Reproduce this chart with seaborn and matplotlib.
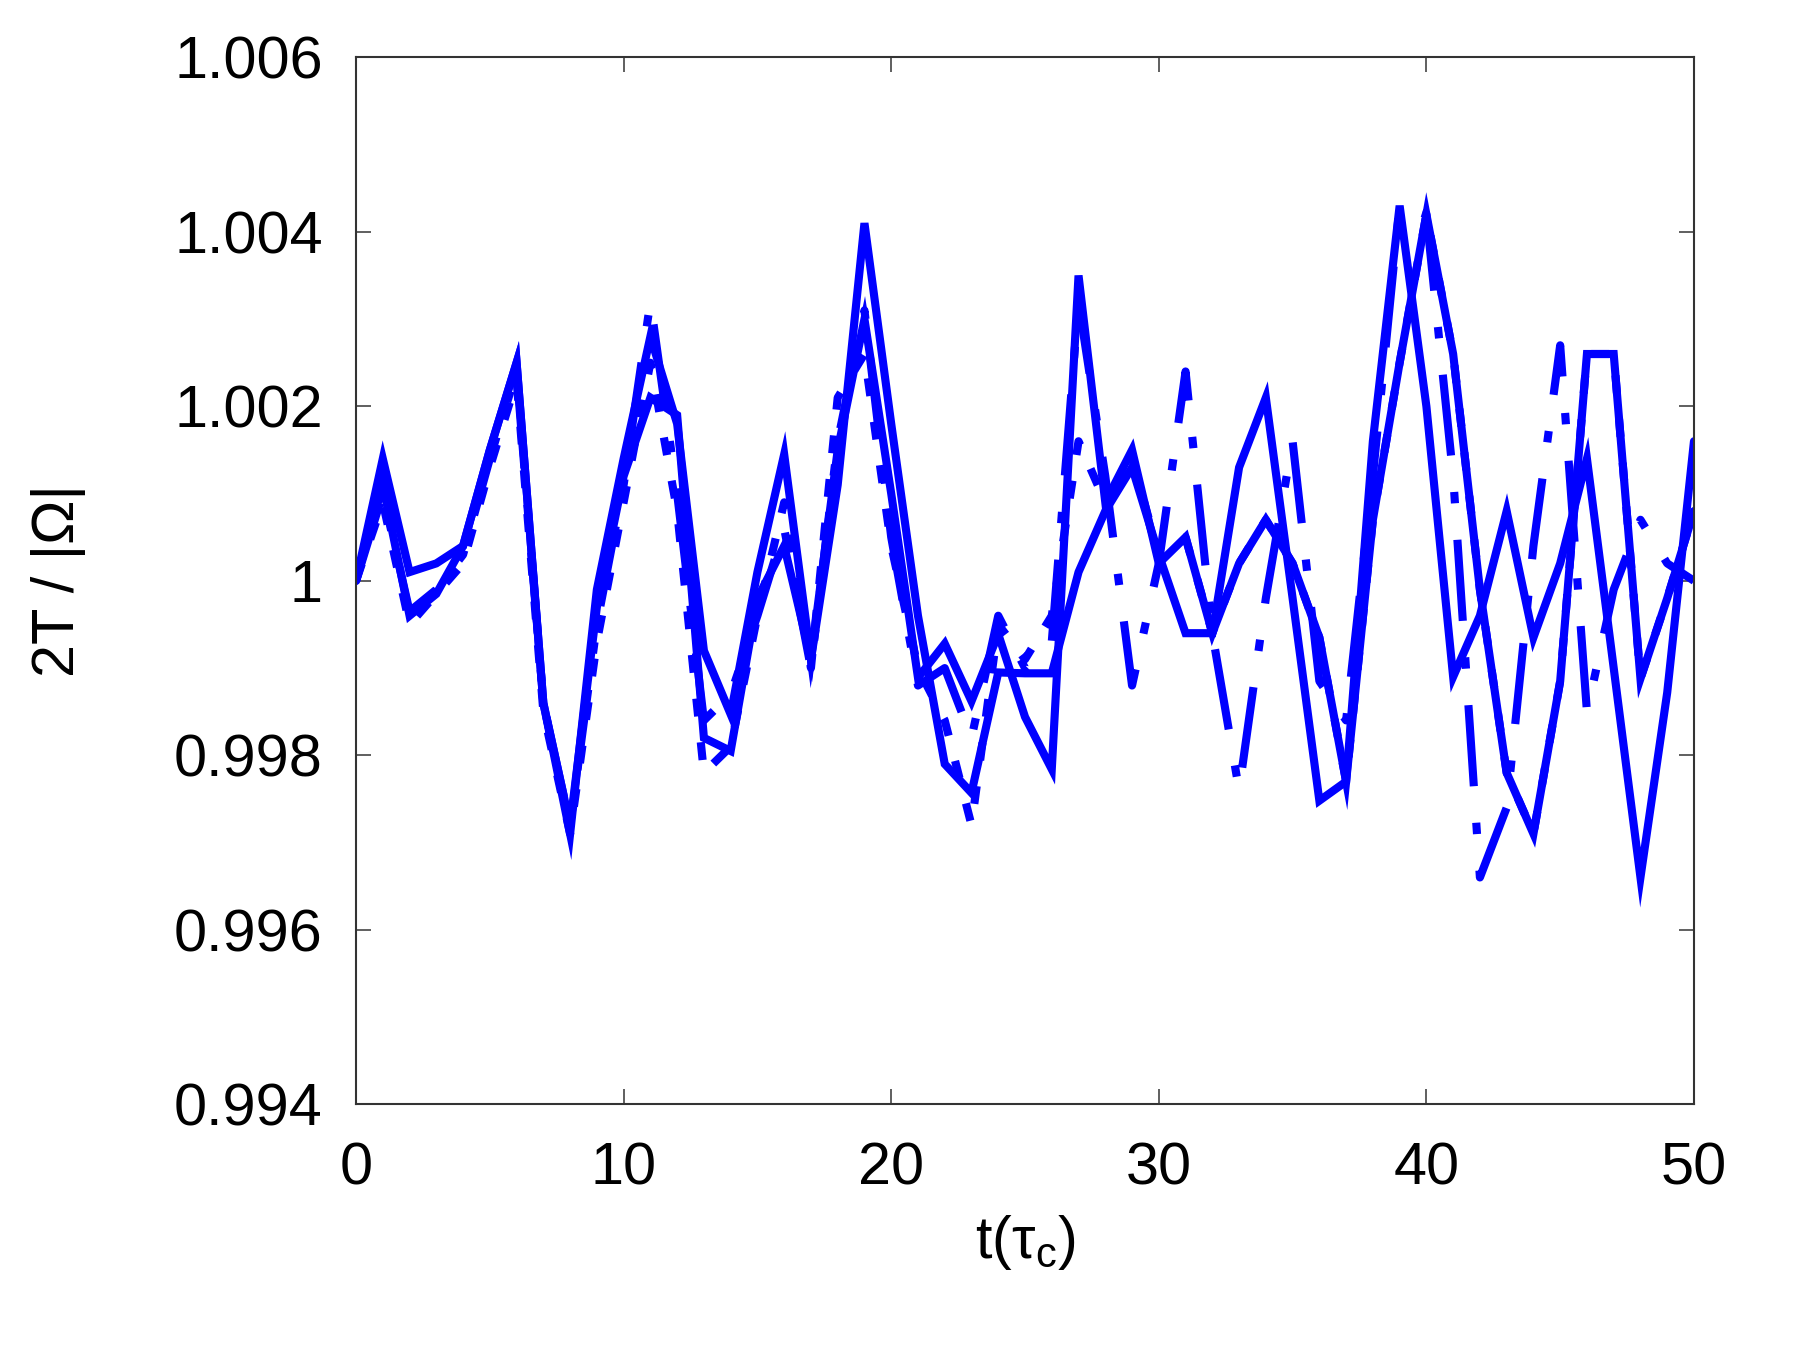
import numpy as np
import pandas as pd
import matplotlib
matplotlib.use("Agg")
import matplotlib.pyplot as plt
import seaborn as sns

t = list(range(51))

solid_1 = [1.0000, 1.0014, 1.0001, 1.0002, 1.0004, 1.0015, 1.0025, 0.9986, 0.9971, 0.9999,
           1.0014, 1.0028, 1.0018, 0.9992, 0.99847, 1.0001, 1.00145, 0.9991, 1.0011, 1.0041,
           1.0018, 0.9996, 0.9979, 0.99757, 0.99895, 0.99894, 0.99894, 1.0001, 1.0008, 1.0013,
           1.0003, 0.9994, 0.9994, 1.0013, 1.0021, 0.9998, 0.99748, 0.9977, 1.0016, 1.0043,
           1.0020, 0.9989, 0.9996, 1.0008, 0.99935, 1.0002, 1.0014, 0.9990, 0.9966, 0.99872,
           1.0016]

solid_2 = [1.0000, 1.0011, 0.9996, 0.99985, 1.0004, 1.0015, 1.0025, 0.9986, 0.9972, 0.9997,
           1.0012, 1.0021, 1.0019, 0.9982, 0.99805, 0.9998, 1.0004, 0.9991, 1.0015, 1.0030,
           1.0010, 0.99889, 0.99928, 0.99862, 0.99939, 0.99844, 0.99784, 1.0035, 1.0009, 1.0015,
           1.0002, 1.0005, 0.9994, 1.0002, 1.0007, 1.0002, 0.99935, 0.9977, 1.0007, 1.0025,
           1.0042, 1.0026, 0.9999, 0.9978, 0.9971, 0.99885, 1.0026, 1.0026, 0.99888, 0.9998,
           1.0008]

dash_dot = [1.0000, 1.0010, 0.99965, 0.9999, 1.0003, 1.0014, 1.0024, 0.9986, 0.9972, 0.9995,
            1.0011, 1.0032, 1.0010, 0.9984, 0.9987, 0.9996, 1.0006, 0.9990, 1.0016, 1.0031,
            1.0005, 0.9988, 0.9990, 0.9982, 0.9996, 0.9990, 0.9993, 1.0032, 1.0012, 0.9988,
            1.0002, 1.0024, 0.9994, 0.9976, 0.9998, 1.0016, 0.99885, 0.9984, 1.0012, 1.0043,
            1.0042, 1.0012, 0.9966, 0.9974, 1.0004, 1.0027, 0.9985, 0.9999, 1.0007, 1.0002,
            1.0000]

dotted = [1.0000, 1.0009, 0.9995, 0.99985, 1.0002, 1.0013, 1.0023, 0.9985, 0.9971, 0.9993,
          1.0009, 1.0025, 1.0008, 0.9978, 0.9981, 0.9996, 1.0009, 0.9990, 1.0021, 1.0026,
          1.0004, 0.9990, 0.9984, 0.9972, 0.9995, 0.9991, 0.9996, 1.0016, 1.0009, 1.0014,
          1.0003, 1.0005, 0.9994, 1.0002, 1.0007, 1.0002, 0.99935, 0.9977, 1.0007, 1.0025,
          1.0042, 1.0026, 0.9999, 0.9978, 0.9971, 0.99885, 1.0026, 1.0026, 0.99888, 0.9998,
          1.0008]

y_ticks = [0.994, 0.996, 0.998, 1.0, 1.002, 1.004, 1.006]
y_tick_labels = ["0.994", "0.996", "0.998", "1", "1.002", "1.004", "1.006"]
x_ticks = [0, 10, 20, 30, 40, 50]
x_tick_labels = ["0", "10", "20", "30", "40", "50"]

names = ["s1", "s2", "dd", "dt"]
df = pd.concat([
    pd.DataFrame({"t": t, "v": vals, "series": name})
    for name, vals in zip(names, [solid_1, solid_2, dash_dot, dotted])
], ignore_index=True)

sns.set_style("ticks")
plt.rcParams["font.family"] = ["Liberation Sans", "DejaVu Sans"]
plt.rcParams["mathtext.fontset"] = "custom"
plt.rcParams["mathtext.rm"] = "Liberation Sans"
plt.rcParams["mathtext.it"] = "Liberation Sans:italic"
plt.rcParams["text.color"] = "black"
plt.rcParams["axes.labelcolor"] = "black"

fig = plt.figure(figsize=(12, 9), dpi=150)
ax = fig.add_axes([0.1978, 0.182, 0.9411 - 0.1978, 0.9575 - 0.182])

dashes = {"s1": "", "s2": "", "dd": (10, 4.5, 1.4, 4.5), "dt": (2.2, 3.2)}
sns.lineplot(data=df, x="t", y="v", units="series", style="series", dashes=dashes,
             estimator=None, color="#0000ff", linewidth=3.9, legend=False, ax=ax,
             sort=False)
for line in ax.get_lines():
    line.set_solid_joinstyle("miter")
    line.set_dash_capstyle("butt")

ax.set_xlim(0, 50)
ax.set_ylim(0.994, 1.006)
ax.set_xticks(x_ticks)
ax.set_xticklabels(x_tick_labels)
ax.set_yticks(y_ticks)
ax.set_yticklabels(y_tick_labels)
ax.tick_params(axis="both", direction="in", length=7, width=0.8, labelsize=28.5,
               top=True, right=True, colors="#444444", labelcolor="black")
ax.tick_params(axis="y", pad=16)
ax.tick_params(axis="x", pad=18)
for sp in ax.spines.values():
    sp.set_visible(True)
    sp.set_linewidth(1.0)
    sp.set_color("#333333")

ax.set_xlabel(r"t($\mathregular{\tau_c}$)", fontsize=28.5, labelpad=8, color="black")
ax.set_ylabel("2T / |Ω|", fontsize=28.5, labelpad=42, color="black")

fig.savefig("out.png", dpi=150)
